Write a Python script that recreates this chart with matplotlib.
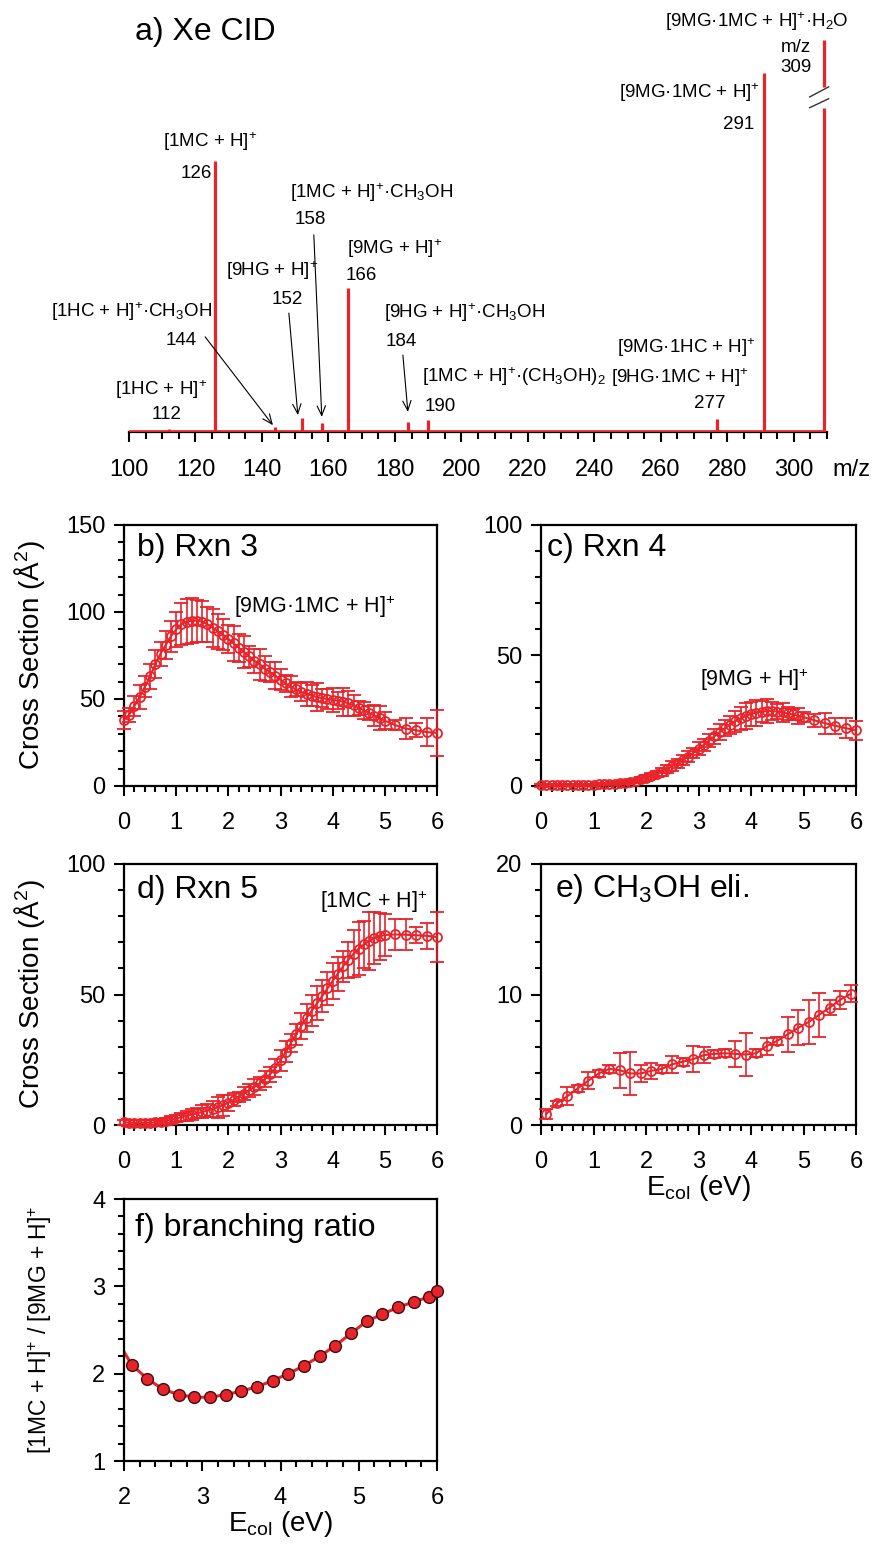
import matplotlib
matplotlib.use("Agg")
import matplotlib.pyplot as plt
from matplotlib import font_manager
from matplotlib.ticker import MultipleLocator

# ---------------- data ----------------
# a) Xe CID spectrum, intensity relative to m/z 291 (= 100); m/z 309 is off scale
peak_mz = [112, 126, 144, 152, 158, 166, 184, 190, 277, 291, 309]
peak_int = [0.8, 75.5, 1.4, 3.9, 2.5, 40.1, 2.8, 3.3, 3.6, 100.0, 109.2]

# collision energies (eV) for panels b-d
E_bd = [0.0, 0.1, 0.2, 0.3, 0.4, 0.5, 0.6, 0.7, 0.8, 0.9,
        1.0, 1.1, 1.2, 1.3, 1.4, 1.5, 1.6, 1.7, 1.8, 1.9,
        2.0, 2.1, 2.2, 2.3, 2.4, 2.5, 2.6, 2.7, 2.8, 2.9,
        3.0, 3.1, 3.2, 3.3, 3.4, 3.5, 3.6, 3.7, 3.8, 3.9,
        4.0, 4.1, 4.2, 4.3, 4.4, 4.5, 4.6, 4.7, 4.8, 4.9,
        5.0, 5.2, 5.4, 5.6, 5.8, 6.0]

sig_rxn3 = [38, 41, 46, 51, 57, 63, 70, 76, 81, 86,
            90, 93, 94.5, 95, 95, 94.5, 93, 91, 89, 87,
            84.5, 82, 79.5, 77, 74.5, 72, 70, 67.5, 65.5, 63.5,
            61, 59, 57, 55.5, 54, 53, 52, 51, 50.5, 50,
            49.5, 49, 48.5, 47.5, 46.5, 45, 43.5, 42, 40.5, 39,
            37.5, 35, 33, 32, 31, 30.5]
err_rxn3 = [5, 4, 6, 7, 6, 7, 8, 7, 8, 9,
            10, 12, 13, 13, 12, 12, 10, 11, 10, 9,
            8, 10, 8, 9, 6, 7, 9, 7, 6, 8,
            6, 5, 6, 4, 5, 7, 6, 8, 5, 6,
            7, 5, 8, 7, 6, 4, 5, 4, 6, 7,
            5, 3, 6, 4, 8, 13]

sig_rxn4 = [0.3, 0.3, 0.3, 0.3, 0.3, 0.3, 0.3, 0.4, 0.4, 0.5,
            0.5, 0.6, 0.7, 0.8, 0.9, 1.1, 1.3, 1.6, 2.0, 2.5,
            3.1, 3.8, 4.6, 5.5, 6.5, 7.6, 8.7, 10.0, 11.3, 12.7,
            14.2, 15.8, 17.4, 19.0, 20.6, 22.1, 23.5, 24.8, 25.9, 26.8,
            27.6, 28.1, 28.5, 28.7, 28.7, 28.5, 28.2, 27.8, 27.4, 26.9,
            26.4, 25.2, 24.1, 23.1, 22.2, 21.3]
err_rxn4 = [0.5, 0.4, 0.4, 0.4, 0.4, 0.4, 0.4, 0.4, 0.4, 0.4,
            0.4, 0.4, 0.4, 0.5, 0.5, 0.5, 0.6, 0.6, 0.8, 0.8,
            1.0, 1.0, 1.2, 1.5, 1.5, 2.0, 1.8, 2.0, 2.2, 2.0,
            2.5, 2.2, 2.5, 2.8, 3.0, 3.0, 3.5, 4.0, 4.5, 5.0,
            4.5, 5.0, 4.0, 4.5, 3.5, 3.0, 3.5, 2.5, 2.0, 3.0,
            2.0, 2.5, 4.0, 3.0, 4.0, 3.5]

sig_rxn5 = [1.0, 0.9, 0.8, 0.8, 0.8, 0.9, 1.0, 1.3, 1.6, 2.0,
            2.5, 3.0, 3.5, 4.0, 4.5, 5.0, 5.5, 6.1, 6.8, 7.6,
            8.5, 9.6, 10.8, 12.0, 13.3, 14.6, 16.0, 17.6, 19.4, 21.8,
            24.8, 28.0, 31.5, 34.8, 38.0, 41.0, 43.8, 46.6, 49.4, 52.3,
            55.2, 58.0, 60.8, 63.3, 65.6, 67.6, 69.2, 70.5, 71.5, 72.3,
            72.8, 73.0, 72.9, 72.7, 72.5, 72.0]
err_rxn5 = [1, 1, 1, 1, 1, 1, 1, 1, 1, 1.5,
            1.5, 1.5, 2, 2, 2, 2.5, 2.5, 3, 4, 4,
            3, 2.5, 2, 2.5, 2.5, 3, 2.5, 3, 3, 3.5,
            4, 4, 3.5, 4, 5, 5.5, 6, 6.5, 6, 6.5,
            7, 6.5, 6, 7, 9, 10, 9, 11, 10, 9,
            8, 6, 6, 3, 5, 9.5]

# e) CH3OH elimination
E_e = [0.1, 0.3, 0.5, 0.7, 0.9, 1.1, 1.3, 1.5, 1.7, 1.9,
       2.1, 2.3, 2.5, 2.7, 2.9, 3.1, 3.3, 3.5, 3.7, 3.9,
       4.1, 4.3, 4.5, 4.7, 4.9, 5.1, 5.3, 5.5, 5.7, 5.9]
sig_meoh = [0.84, 1.65, 2.2, 2.8, 3.4, 3.95, 4.3, 4.2, 3.95, 3.95,
            4.15, 4.3, 4.65, 4.85, 5.05, 5.35, 5.45, 5.5, 5.45, 5.4,
            5.5, 6.05, 6.45, 6.95, 7.45, 7.9, 8.45, 9.0, 9.6, 10.05]
err_meoh = [0.35, 0.2, 0.7, 0.3, 0.65, 0.3, 0.3, 1.35, 1.65, 0.65,
            0.6, 0.3, 0.65, 0.3, 1.0, 0.6, 0.3, 0.3, 1.0, 1.65,
            0.3, 0.65, 0.3, 1.35, 1.35, 1.7, 1.7, 0.55, 0.7, 0.65]

# f) branching ratio [1MC+H]+ / [9MG+H]+
E_f = [2.1, 2.3, 2.5, 2.7, 2.9, 3.1, 3.3, 3.5, 3.7, 3.9, 4.1,
       4.3, 4.5, 4.7, 4.9, 5.1, 5.3, 5.5, 5.7, 5.9, 6.0]
ratio_f = [2.10, 1.94, 1.82, 1.76, 1.73, 1.73, 1.76, 1.80, 1.85, 1.92, 2.00,
           2.09, 2.20, 2.32, 2.46, 2.60, 2.68, 2.76, 2.82, 2.88, 2.95]
fit_E = [2.0] + E_f
fit_ratio = [2.25] + ratio_f

# ---------------- style ----------------
RED = "#e8232a"
plt.rcParams["font.family"] = ["Liberation Sans", "DejaVu Sans"]
names = {f.name for f in font_manager.fontManager.ttflist}
if "Liberation Sans Narrow" in names:
    LBL_FONT, LBL_SIZE = ["Liberation Sans Narrow", "DejaVu Sans"], 15.5
else:
    LBL_FONT, LBL_SIZE = ["Liberation Sans", "DejaVu Sans"], 13.5

W, H = 875, 1545
fig = plt.figure(figsize=(W / 100, H / 100), dpi=100)


def rect(left, top, right, bottom):
    return [left / W, 1 - bottom / H, (right - left) / W, (bottom - top) / H]


def sup(s):
    return r"$\mathregular{^{%s}}$" % s


def sub(s):
    return r"$\mathregular{_{%s}}$" % s


# ---------------- a) spectrum ----------------
ax = fig.add_axes(rect(129, 10, 827, 432))
ax.set_xlim(100, 310)
ax.set_ylim(0, 117.5)
for s in ("left", "right", "top"):
    ax.spines[s].set_visible(False)
ax.spines["bottom"].set_linewidth(1.6)
ax.set_yticks([])
ax.xaxis.set_major_locator(MultipleLocator(20))
ax.xaxis.set_minor_locator(MultipleLocator(5))
ax.tick_params(axis="x", which="major", length=7.5, width=1.5, labelsize=17, pad=12)
ax.tick_params(axis="x", which="minor", length=5, width=1.5)
ax.set_xticks(range(100, 301, 20))
ax.text(311.5, -0.09, "m/z", transform=ax.get_xaxis_transform(), fontsize=17,
        ha="left", va="center", clip_on=False)

ax.plot([100, 309], [0, 0], color=RED, lw=2.6, solid_capstyle="butt", zorder=3)
brk_lo, brk_hi = 90.3, 96.1
for mz, h in zip(peak_mz, peak_int):
    if mz == 309:
        ax.vlines(mz, 0, brk_lo, color=RED, lw=2.3, zorder=3)
        ax.vlines(mz, brk_hi, h, color=RED, lw=2.3, zorder=3)
    else:
        ax.vlines(mz, 0, h, color=RED, lw=2.3, zorder=3)
# axis break marks
ax.plot([304.8, 310.5], [93.3, 96.1], color="#333333", lw=1.0, clip_on=False)
ax.plot([304.8, 310.5], [90.3, 92.8], color="#333333", lw=1.0, clip_on=False)

spec_labels = [
    ("[9MG·1MC + H]" + sup("+") + "·H" + sub("2") + "O", 288.9, 114.2),
    ("m/z", 300.6, 107.0),
    ("309", 300.6, 101.4),
    ("[9MG·1MC + H]" + sup("+"), 268.7, 94.4),
    ("291", 283.5, 85.5),
    ("[1MC + H]" + sup("+"), 124.4, 80.8),
    ("126", 120.2, 72.1),
    ("[1MC + H]" + sup("+") + "·CH" + sub("3") + "OH", 173.1, 66.6),
    ("158", 154.7, 59.1),
    ("[9MG + H]" + sup("+"), 180.0, 51.0),
    ("166", 169.8, 43.7),
    ("[9HG + H]" + sup("+"), 143.0, 44.8),
    ("152", 147.5, 36.8),
    ("[1HC + H]" + sup("+") + "·CH" + sub("3") + "OH", 100.9, 33.4),
    ("144", 115.6, 25.6),
    ("[9HG + H]" + sup("+") + "·CH" + sub("3") + "OH", 201.1, 33.1),
    ("184", 181.8, 25.3),
    ("[9MG·1HC + H]" + sup("+"), 267.8, 23.4),
    ("[1MC + H]" + sup("+") + "·(CH" + sub("3") + "OH)" + sub("2"), 215.8, 15.3),
    ("[9HG·1MC + H]" + sup("+"), 265.7, 15.0),
    ("277", 274.7, 7.8),
    ("190", 193.5, 7.2),
    ("[1HC + H]" + sup("+"), 109.6, 11.7),
    ("112", 111.4, 5.0),
]
for txt, x, y in spec_labels:
    ax.text(x, y, txt, fontsize=LBL_SIZE, family=LBL_FONT, ha="center",
            va="center", clip_on=False)

arrows = [((122.9, 26.5), (143.3, 1.9)),
          ((148.1, 33.1), (150.8, 4.7)),
          ((155.6, 54.9), (158.0, 4.2)),
          ((182.4, 21.4), (183.9, 5.6))]
for start, end in arrows:
    ax.annotate("", xy=end, xytext=start,
                arrowprops=dict(arrowstyle="->,head_length=0.7,head_width=0.3",
                                color="k", lw=0.8, shrinkA=0, shrinkB=0))

fig.text(135 / W, 1 - 32 / H, "a) Xe CID", fontsize=23, ha="left", va="center")


# ---------------- b-f ----------------
def style_axes(ax, xlim, ylim, xmaj, xmin, ymaj, ymin):
    ax.set_xlim(*xlim)
    ax.set_ylim(*ylim)
    for s in ax.spines.values():
        s.set_linewidth(1.6)
    ax.xaxis.set_major_locator(MultipleLocator(xmaj))
    ax.xaxis.set_minor_locator(MultipleLocator(xmin))
    ax.yaxis.set_major_locator(MultipleLocator(ymaj))
    ax.yaxis.set_minor_locator(MultipleLocator(ymin))
    ax.tick_params(which="both", direction="out", top=False, right=False,
                   width=1.5, labelsize=17)
    ax.tick_params(which="major", length=7.5)
    ax.tick_params(which="minor", length=4.5)
    ax.tick_params(axis="x", pad=11)
    ax.tick_params(axis="y", pad=6)


def xs_plot(ax, x, y, err):
    ax.errorbar(x, y, yerr=err, color=RED, lw=1.5, marker="o", ms=6.5,
                mfc="none", mec=RED, mew=1.3, elinewidth=1.2, capsize=5,
                capthick=1.2, clip_on=False, zorder=3)


YLAB = "Cross Section (Å" + sup("2") + ")"

axb = fig.add_axes(rect(124, 525, 437, 786))
style_axes(axb, (0, 6), (0, 150), 1, 0.2, 50, 10)
xs_plot(axb, E_bd, sig_rxn3, err_rxn3)
axb.text(0.04, 0.91, "b) Rxn 3", transform=axb.transAxes, fontsize=23, va="center")
axb.text(0.35, 0.686, "[9MG·1MC + H]" + sup("+"), transform=axb.transAxes,
         fontsize=15.5, va="center")
axb.set_ylabel(YLAB, fontsize=20)
axb.yaxis.set_label_coords(-0.245, 0.5)

axc = fig.add_axes(rect(541, 525, 856, 786))
style_axes(axc, (0, 6), (0, 100), 1, 0.2, 50, 10)
xs_plot(axc, E_bd, sig_rxn4, err_rxn4)
axc.text(0.02, 0.91, "c) Rxn 4", transform=axc.transAxes, fontsize=23, va="center")
axc.text(0.505, 0.406, "[9MG + H]" + sup("+"), transform=axc.transAxes,
         fontsize=15.5, va="center")

axd = fig.add_axes(rect(124, 864, 437, 1125))
style_axes(axd, (0, 6), (0, 100), 1, 0.2, 50, 10)
xs_plot(axd, E_bd, sig_rxn5, err_rxn5)
axd.text(0.04, 0.90, "d) Rxn 5", transform=axd.transAxes, fontsize=23, va="center")
axd.text(0.626, 0.855, "[1MC + H]" + sup("+"), transform=axd.transAxes,
         fontsize=15.5, va="center")
axd.set_ylabel(YLAB, fontsize=20)
axd.yaxis.set_label_coords(-0.245, 0.5)

axe = fig.add_axes(rect(541, 864, 856, 1125))
style_axes(axe, (0, 6), (0, 20), 1, 0.2, 10, 2)
xs_plot(axe, E_e, sig_meoh, err_meoh)
axe.text(0.044, 0.906, "e) CH" + sub("3") + "OH eli.", transform=axe.transAxes,
         fontsize=23, va="center")
axe.set_xlabel("E" + sub("col") + " (eV)", fontsize=20)
axe.xaxis.set_label_coords(0.5, -0.185)

axf = fig.add_axes(rect(124, 1199, 437, 1461))
style_axes(axf, (2, 6), (1, 4), 1, 0.2, 1, 0.2)
axf.plot(fit_E, fit_ratio, color=RED, lw=2.2, zorder=2)
axf.plot(E_f, ratio_f, "o", ms=8.5, mfc=RED, mec="#3a1010", mew=1.0,
         clip_on=False, zorder=3)
axf.text(0.035, 0.89, "f) branching ratio", transform=axf.transAxes,
         fontsize=23, va="center")
axf.set_ylabel("[1MC + H]" + sup("+") + " / [9MG + H]" + sup("+"), fontsize=16.5)
axf.yaxis.set_label_coords(-0.225, 0.5)
axf.set_xlabel("E" + sub("col") + " (eV)", fontsize=20)
axf.xaxis.set_label_coords(0.5, -0.185)

fig.savefig("out.png", dpi=100)
